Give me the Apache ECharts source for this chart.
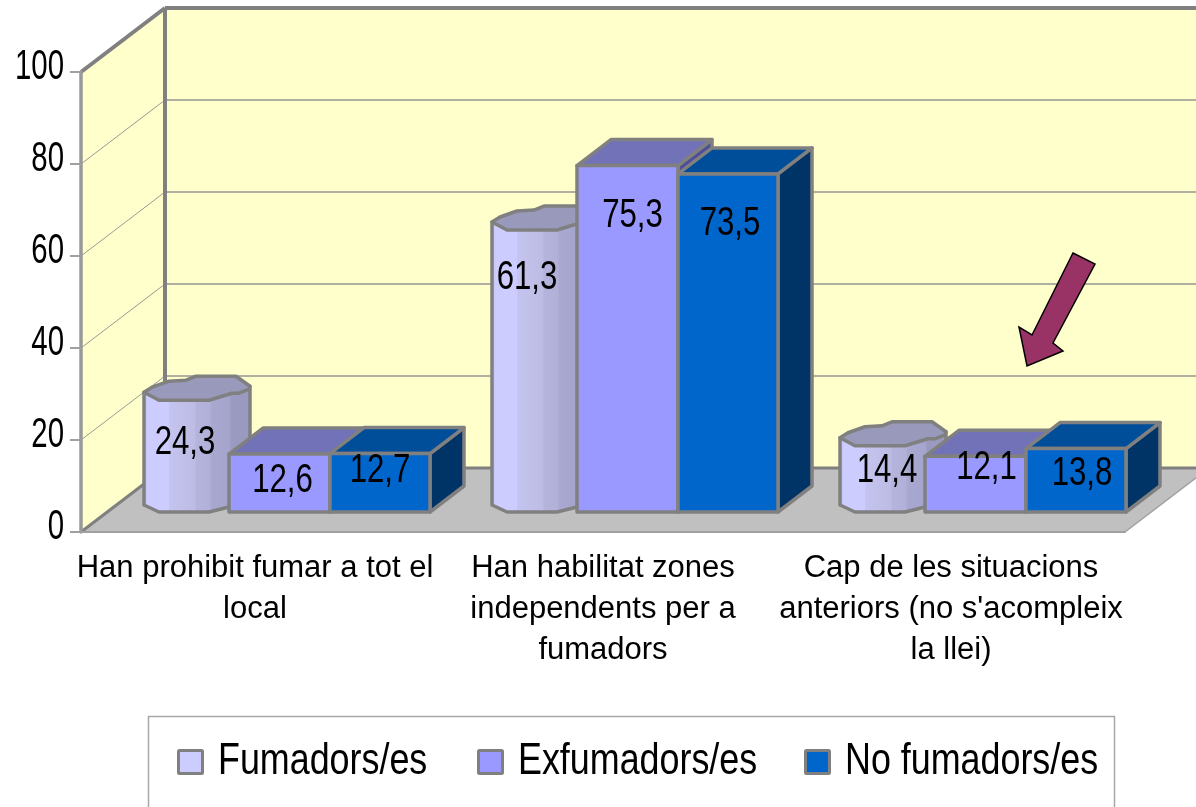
<!DOCTYPE html>
<html>
<head>
<meta charset="utf-8">
<style>
  html, body { margin: 0; padding: 0; background: #fff; overflow: hidden; }
  #chart { width: 1196px; height: 807px; }
</style>
<script src="https://cdn.jsdelivr.net/npm/echarts@6/dist/echarts.min.js"></script>
</head>
<body>
<div id="chart"></div>
<script>
// Donnees
const categories = [
  'Han prohibit fumar a tot el\nlocal',
  'Han habilitat zones\nindependents per a\nfumadors',
  "Cap de les situacions\nanteriors (no s'acompleix\nla llei)"
];
const fumadors = [24.3, 61.3, 14.4];
const exfumadors = [12.6, 75.3, 12.1];
const noFumadors = [12.7, 73.5, 13.8];
const yTicks = [0, 20, 40, 60, 80, 100];
const seriesNames = ['Fumadors/es', 'Exfumadors/es', 'No fumadors/es'];
const seriesColors = ['#ccccff', '#9999ff', '#0066cc'];

// Decalages manuels des etiquettes (depuis le centre haut de la barre)
const labelShift = {
  fumadors: [[-1, 43], [-7, 48], [5, 25]],
  exfumadors: [[3, 27], [5, 50], [11, 12]],
  noFumadors: [[0, 17], [2, 50], [6, 25]]
};
// Position du debut de chaque entree de legende
const legendStart = [177, 477, 804];

// Profondeur de la pseudo 3D
const WALL_DX = 84, WALL_DY = -64;
const BAR_LIFT = 20, BAR_DX = 34, BAR_DY = -26;
const EDGE = '#808080';
const FONT = '"Liberation Sans", sans-serif';

function poly(points, fill, stroke, lineWidth) {
  return {
    type: 'polygon',
    shape: { points },
    style: { fill, stroke: stroke || 'none', lineWidth: lineWidth || 0, lineJoin: 'round' }
  };
}
function line(a, b, stroke, lineWidth) {
  return {
    type: 'line',
    shape: { x1: a[0], y1: a[1], x2: b[0], y2: b[1] },
    style: { stroke, lineWidth, fill: 'none' }
  };
}
// Texte etroit : pas de police condensee, on compresse en largeur
function narrowText(x, y, text, size, scaleX, align) {
  return {
    type: 'text',
    x, y, scaleX,
    style: {
      x: 0, y: 0, text,
      fill: '#000',
      font: size + 'px ' + FONT,
      align: align || 'center',
      verticalAlign: 'middle'
    }
  };
}

// Murs et sol, calcules depuis les echelles
function renderWalls(params, api) {
  const band = api.size([1, 0])[0];
  const x0 = api.coord([0, 0])[0] - band / 2;
  const x1 = x0 + band * categories.length;
  const y0 = api.coord([0, 0])[1];
  const y100 = api.coord([0, 100])[1];
  const bx0 = x0 + WALL_DX, bx1 = x1 + WALL_DX;
  const by0 = y0 + WALL_DY, by100 = y100 + WALL_DY;
  return {
    type: 'group',
    children: [
      poly([[bx0, by100], [bx1, by100], [bx1, by0], [bx0, by0]], '#ffffcc'),
      poly([[x0, y100], [bx0, by100], [bx0, by0], [x0, y0]], '#ffffcc'),
      poly([[x0, y0], [bx0, by0], [bx1, by0], [x1, y0]], '#c0c0c0')
    ]
  };
}

function renderWallEdges(params, api) {
  const band = api.size([1, 0])[0];
  const x0 = api.coord([0, 0])[0] - band / 2;
  const x1 = x0 + band * categories.length;
  const y0 = api.coord([0, 0])[1];
  const y100 = api.coord([0, 100])[1];
  const bx0 = x0 + WALL_DX, bx1 = x1 + WALL_DX;
  const by0 = y0 + WALL_DY, by100 = y100 + WALL_DY;
  return {
    type: 'group',
    children: [
      line([x0, y100], [bx0, by100], EDGE, 4),
      line([bx0, by100], [bx1, by100], EDGE, 4),
      line([bx0, by100], [bx0, by0], EDGE, 4),
      line([x0, y0], [bx0, by0], EDGE, 3),
      line([bx0, by0], [bx1, by0], EDGE, 3),
      line([x1, y0], [bx1, by0], '#a0a0a0', 1.5)
    ]
  };
}

function renderGrid(params, api) {
  const v = api.value(0);
  const band = api.size([1, 0])[0];
  const x0 = api.coord([0, 0])[0] - band / 2;
  const x1 = x0 + band * categories.length;
  const y = api.coord([0, v])[1];
  const children = [narrowText(x0 - 17, y - 5, String(v), 42, 0.7, 'right')];
  if (v !== 0 && v !== 100) {
    children.push(line([x0, y], [x0 + WALL_DX, y + WALL_DY], '#999999', 1));
    children.push(line([x0 + WALL_DX, y + WALL_DY], [x1 + WALL_DX, y + WALL_DY], '#b0b0a0', 2));
  }
  return { type: 'group', children };
}

function valueText(x, y, v) {
  return narrowText(x, y, String(v).replace('.', ','), 40, 0.78);
}

// Cylindre de la premiere serie
function renderCylinder(params, api) {
  const i = api.value(0);
  const v = api.value(1);
  const c = api.coord([i, v]);
  const left = c[0] - 111;
  const top = c[1] - BAR_LIFT;
  const bottom = api.coord([i, 0])[1] - BAR_LIFT;
  const shift = labelShift.fumadors[i];
  const side = [
    [left, top - 8], [left, bottom - 7], [left + 15, bottom], [left + 65, bottom],
    [left + 85, bottom - 5], [left + 106, bottom - 14], [left + 106, top - 14]
  ];
  const cap = [
    [left, top - 8], [left + 8, top - 13], [left + 25, top - 19], [left + 42, top - 20],
    [left + 52, top - 24], [left + 92, top - 24], [left + 106, top - 14], [left + 105, top - 11],
    [left + 95, top - 7], [left + 88, top - 7], [left + 65, top], [left + 15, top]
  ];
  const stripes = {
    type: 'linear', x: 0, y: 0, x2: 1, y2: 0,
    colorStops: [
      { offset: 0, color: '#b8b8e8' }, { offset: 0.05, color: '#ccccff' },
      { offset: 0.24, color: '#ccccff' }, { offset: 0.25, color: '#c4c4f0' },
      { offset: 0.48, color: '#bcbce4' }, { offset: 0.49, color: '#b4b4dc' },
      { offset: 0.62, color: '#b0b0d8' }, { offset: 0.63, color: '#a8a8d0' },
      { offset: 0.8, color: '#a4a4cc' }, { offset: 0.81, color: '#9a9ac0' },
      { offset: 1, color: '#9a9ac0' }
    ]
  };
  return {
    type: 'group',
    children: [
      poly(side, stripes, EDGE, 3.5),
      poly(cap, '#9999bb', EDGE, 3.5),
      valueText(left + 42 + shift[0], top + shift[1], v)
    ]
  };
}

// Barres en boite
function makeBoxRenderer(fromCentre, toCentre, front, topFace, sideFace, shifts) {
  return function (params, api) {
    const i = api.value(0);
    const v = api.value(1);
    const c = api.coord([i, v]);
    const l = c[0] + fromCentre;
    const r = c[0] + toCentre;
    const t = c[1] - BAR_LIFT;
    const b = api.coord([i, 0])[1] - BAR_LIFT;
    const shift = shifts[i];
    return {
      type: 'group',
      children: [
        poly([[r, t], [r + BAR_DX, t + BAR_DY], [r + BAR_DX, b + BAR_DY], [r, b]], sideFace, EDGE, 3.5),
        poly([[l, t], [l + BAR_DX, t + BAR_DY], [r + BAR_DX, t + BAR_DY], [r, t]], topFace, EDGE, 3.5),
        poly([[l, t], [r, t], [r, b], [l, b]], front, EDGE, 3.5),
        valueText((l + r) / 2 + shift[0], t + shift[1], v)
      ]
    };
  };
}

function pairs(values) {
  return values.map((v, i) => [i, v]);
}

// Legende dessinee a la main (texte compresse impossible avec legend)
function legendGraphics() {
  const items = [{
    type: 'rect',
    shape: { x: 148.5, y: 716.5, width: 966, height: 120 },
    style: { fill: '#fff', stroke: '#a8a8a8', lineWidth: 1.5 }
  }];
  seriesNames.forEach((name, i) => {
    const x = legendStart[i];
    items.push({
      type: 'rect',
      shape: { x: x + 1.5, y: 750.5, width: 24, height: 23, r: 1 },
      style: { fill: seriesColors[i], stroke: EDGE, lineWidth: 3 }
    });
    items.push(narrowText(x + 41, 762, name, 44, 0.815, 'left'));
  });
  return items;
}

const option = {
  animation: false,
  backgroundColor: '#fff',
  grid: { left: 81, top: 72, width: 1044, height: 460, outerBoundsMode: 'none' },
  xAxis: {
    type: 'category',
    data: categories,
    z: 2,
    axisLine: { lineStyle: { color: '#a0a0a0', width: 2 } },
    axisTick: { length: 10, lineStyle: { color: '#a0a0a0', width: 1.5 } },
    axisLabel: {
      interval: 0,
      margin: 16,
      fontFamily: FONT,
      fontSize: 31,
      lineHeight: 41,
      color: '#000'
    }
  },
  yAxis: {
    type: 'value',
    min: 0,
    max: 100,
    interval: 20,
    z: 2,
    splitLine: { show: false },
    axisLine: { show: true, lineStyle: { color: '#999999', width: 3.5 } },
    axisTick: { show: true, length: 11, lineStyle: { color: '#a0a0a0', width: 2 } },
    axisLabel: { show: false }
  },
  series: [
    { name: 'walls', type: 'custom', z: 1, silent: true, data: [[0, 100]], encode: { x: 0, y: 1 }, renderItem: renderWalls },
    { name: 'grid', type: 'custom', z: 1, silent: true, data: yTicks.map(v => [v]), encode: { y: 0 }, renderItem: renderGrid },
    { name: 'edges', type: 'custom', z: 1, silent: true, data: [[0, 100]], encode: { x: 0, y: 1 }, renderItem: renderWallEdges },
    {
      name: seriesNames[0], type: 'custom', z: 3,
      data: pairs(fumadors), encode: { x: 0, y: 1 },
      renderItem: renderCylinder
    },
    {
      name: seriesNames[1], type: 'custom', z: 4,
      data: pairs(exfumadors), encode: { x: 0, y: 1 },
      renderItem: makeBoxRenderer(-26, 75, seriesColors[1], '#7272b8', '#4d4d99', labelShift.exfumadors)
    },
    {
      name: seriesNames[2], type: 'custom', z: 5,
      data: pairs(noFumadors), encode: { x: 0, y: 1 },
      renderItem: makeBoxRenderer(75, 175, seriesColors[2], '#004d99', '#003366', labelShift.noFumadors)
    }
  ],
  graphic: [{
    // fleche ajoutee a la main sur le graphique
    type: 'polygon',
    z: 10,
    shape: { points: [[1073, 253], [1095, 264], [1053, 343], [1063, 351], [1027, 366], [1019, 327], [1032, 335]] },
    style: { fill: '#993366', stroke: '#000', lineWidth: 1.5 }
  }].concat(legendGraphics())
};

const chart = echarts.init(document.getElementById('chart'));
chart.setOption(option);
</script>
</body>
</html>
